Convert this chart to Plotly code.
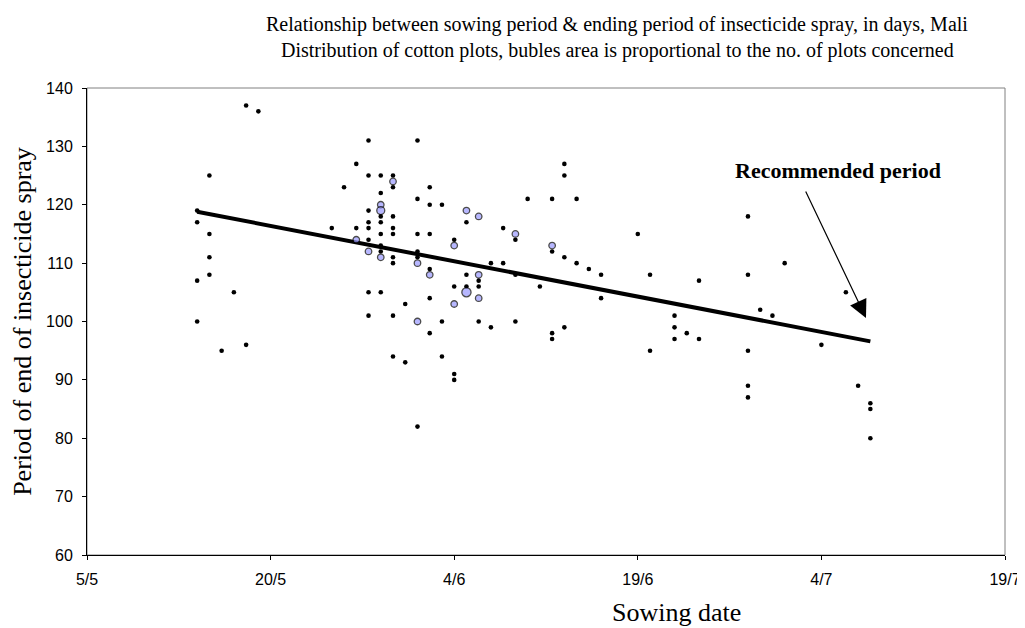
import plotly.graph_objects as go
from datetime import datetime

YEAR = 2000

# ---- data (sowing date dd/m, period of end of insecticide spray in days, no. of plots) ----
sowing = ["18/5", "19/5", "15/5", "14/5", "14/5", "15/5", "15/5", "15/5", "14/5", "17/5", "14/5", "16/5", "18/5",
          "28/5", "1/6", "27/5", "28/5", "29/5", "30/5", "30/5", "30/5", "26/5", "2/6", "29/5", "1/6", "2/6", "3/6",
          "29/5", "29/5", "28/5", "29/5", "30/5", "28/5", "29/5", "25/5", "27/5", "28/5", "30/5", "27/5", "28/5",
          "29/5", "30/5", "1/6", "2/6", "28/5", "29/5", "29/5", "29/5", "30/5", "30/5", "1/6", "1/6", "1/6", "2/6",
          "2/6", "28/5", "29/5", "31/5", "2/6", "28/5", "30/5", "1/6", "3/6", "2/6", "30/5", "31/5", "3/6", "1/6",
          "10/6", "12/6", "14/6", "5/6", "6/6", "5/6", "8/6", "4/6", "4/6", "9/6", "9/6", "12/6", "12/6", "13/6",
          "14/6", "15/6", "16/6", "7/6", "8/6", "5/6", "6/6", "6/6", "9/6", "4/6", "5/6", "6/6", "5/6", "11/6",
          "16/6", "6/6", "4/6", "6/6", "9/6", "7/6", "13/6", "12/6", "12/6", "4/6", "4/6", "13/6", "13/6",
          "19/6", "20/6", "20/6", "22/6", "22/6", "22/6", "23/6", "24/6", "24/6", "28/6", "28/6", "28/6", "28/6",
          "28/6", "29/6", "30/6", "1/7", "4/7", "6/7", "7/7", "8/7", "8/7", "8/7"]
period = [137, 136, 125, 119, 117, 115, 111, 108, 107, 105, 100, 95, 96,
          131, 131, 127, 125, 125, 125, 124, 123, 123, 123, 122, 121, 120, 120,
          120, 119, 119, 118, 118, 117, 117, 116, 116, 116, 116, 114, 114,
          115, 115, 115, 115, 112, 113, 112, 111, 111, 110, 112, 111, 110, 109,
          108, 105, 105, 103, 104, 101, 101, 100, 100, 98, 94, 93, 94, 82,
          121, 121, 121, 119, 118, 117, 116, 114, 113, 115, 114, 113, 112, 111,
          110, 109, 108, 110, 110, 108, 108, 107, 108, 106, 106, 106, 105, 106,
          104, 104, 103, 100, 100, 99, 99, 98, 97, 91, 90, 127, 125,
          115, 108, 95, 101, 99, 97, 98, 107, 97, 118, 108, 95, 89,
          87, 102, 101, 110, 96, 105, 89, 86, 85, 80]
plots = [1, 1, 1, 1, 1, 1, 1, 1, 1, 1, 1, 1, 1,
         1, 1, 1, 1, 1, 1, 2, 1, 1, 1, 1, 1, 1, 1,
         2, 3, 1, 1, 1, 1, 1, 1, 1, 1, 1, 2, 1,
         1, 1, 1, 1, 2, 1, 1, 2, 1, 1, 1, 1, 2, 1,
         2, 1, 1, 1, 1, 1, 1, 2, 1, 1, 1, 1, 1, 1,
         1, 1, 1, 2, 2, 1, 1, 1, 2, 2, 1, 2, 1, 1,
         1, 1, 1, 1, 1, 1, 2, 1, 1, 1, 1, 1, 4, 1,
         1, 2, 2, 1, 1, 1, 1, 1, 1, 1, 1, 1, 1,
         1, 1, 1, 1, 1, 1, 1, 1, 1, 1, 1, 1, 1,
         1, 1, 1, 1, 1, 1, 1, 1, 1, 1]

trend_dates = ["14/5", "8/7"]
trend_values = [118.8, 96.6]

tick_labels = ["5/5", "20/5", "4/6", "19/6", "4/7", "19/7"]


def to_date(s):
    d, m = s.split("/")
    return datetime(YEAR, int(m), int(d))


xs = [to_date(s) for s in sowing]
single = [i for i, n in enumerate(plots) if n == 1]
multi = [i for i, n in enumerate(plots) if n > 1]
BASE = 4.6

fig = go.Figure()
fig.add_trace(go.Scatter(
    x=[to_date(s) for s in trend_dates], y=trend_values, mode="lines",
    line=dict(color="black", width=4), hoverinfo="skip", showlegend=False))
fig.add_trace(go.Scatter(
    x=[xs[i] for i in single], y=[period[i] for i in single], mode="markers",
    marker=dict(size=BASE, color="black", line=dict(width=0)), showlegend=False))
fig.add_trace(go.Scatter(
    x=[xs[i] for i in multi], y=[period[i] for i in multi], mode="markers",
    marker=dict(size=[BASE * plots[i] ** 0.5 for i in multi], sizemode="diameter",
                color="#9999FF", line=dict(width=1.3, color="black")),
    showlegend=False))

serif = "Liberation Serif"
sans = "Liberation Sans"

# the page body has an 8px margin: figure coordinates = page coordinates - 8
OFF = 8
W, H = 1025 - OFF, 628 - OFF
PL, PR, PT, PB = 87 - OFF, 1005 - OFF, 88 - OFF, 555 - OFF
PW, PH = PR - PL, PB - PT


def px(xp):
    return (xp - OFF - PL) / PW


def py(yp):
    return (PB - (yp - OFF)) / PH


fig.update_layout(
    width=W, height=H,
    margin=dict(l=PL, r=W - PR, t=PT, b=H - PB, autoexpand=False),
    paper_bgcolor="white", plot_bgcolor="white",
    xaxis=dict(
        type="date", range=[to_date(tick_labels[0]), to_date(tick_labels[-1])],
        tickvals=[to_date(t) for t in tick_labels], ticktext=tick_labels,
        showgrid=False, zeroline=False, showline=True, linecolor="black", linewidth=1,
        ticks="outside", ticklen=4, tickcolor="black", mirror=False, automargin=False,
        tickfont=dict(family=sans, size=16, color="black"), ticklabelstandoff=6,
    ),
    yaxis=dict(
        range=[60, 140], tickvals=[60, 70, 80, 90, 100, 110, 120, 130, 140],
        showgrid=False, zeroline=False, showline=True, linecolor="black", linewidth=1,
        ticks="outside", ticklen=4, tickcolor="black", automargin=False,
        tickfont=dict(family=sans, size=16, color="black"), ticklabelstandoff=6,
        title=dict(text="Period of end of insecticide spray", font=dict(family=serif, size=26, color="black"), standoff=12),
    ),
    shapes=[dict(type="rect", xref="paper", yref="paper", x0=0, y0=0, x1=1, y1=1,
                 line=dict(color="#808080", width=1), layer="below")],
    annotations=[
        dict(text="Relationship between sowing period &amp; ending period of insecticide spray, in days, Mali",
             xref="paper", yref="paper", x=px(617), y=py(24), xanchor="center", yanchor="middle",
             showarrow=False, font=dict(family=serif, size=20, color="black")),
        dict(text="Distribution of cotton plots, bubles area is proportional to the no. of plots concerned",
             xref="paper", yref="paper", x=px(617), y=py(50), xanchor="center", yanchor="middle",
             showarrow=False, font=dict(family=serif, size=20, color="black")),
        dict(text="Sowing date", xref="paper", yref="paper", x=px(676), y=py(612),
             xanchor="center", yanchor="middle", showarrow=False,
             font=dict(family=serif, size=26, color="black")),
        dict(text="<b>Recommended period</b>", xref="paper", yref="paper",
             x=px(733), y=py(170), xanchor="left", yanchor="middle",
             showarrow=False, font=dict(family=serif, size=22, color="black")),
        dict(text="", xref="x domain", yref="y domain",
             x=px(866), y=py(318),
             ax=px(805), ay=py(190), axref="x domain", ayref="y domain",
             showarrow=True, arrowhead=2, arrowsize=3, arrowwidth=1.2, arrowcolor="black"),
    ],
)

fig.write_html("out.html")
